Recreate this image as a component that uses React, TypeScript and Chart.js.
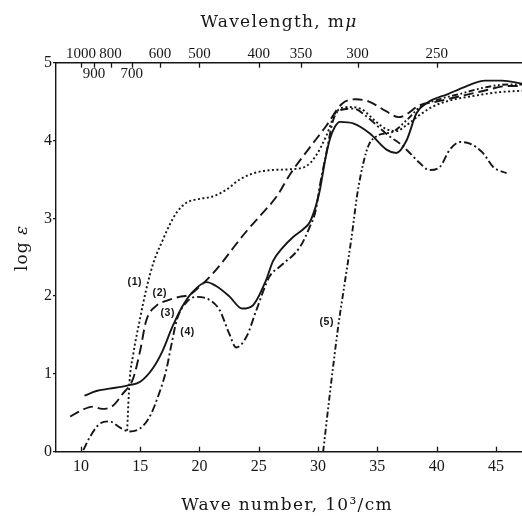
import React, { useEffect, useRef } from "react";
import { Chart, registerables } from "chart.js";

Chart.register(...registerables);

// ---- axis ticks ----
const wavenumberTicks = [10, 15, 20, 25, 30, 35, 40, 45];
const logEpsTicks = [0, 1, 2, 3, 4, 5];
const wavelengthTicks = [1000, 900, 800, 700, 600, 500, 400, 350, 300, 250];
const wavelengthInside = [900, 700];

// ---- curve (1): dotted ----
const curve1Wn = [13.9, 14.1, 14.4, 15.0, 15.5, 16.1, 16.9, 17.5, 18.1, 18.9, 20.0, 21.1, 22.3, 23.4, 24.8, 26.1, 27.6, 29.0, 29.8, 30.7, 31.5, 32.6, 33.7, 34.9, 35.7, 36.6, 37.4, 38.5, 39.6, 41.0, 43.0, 45.2, 47.2];
const curve1LogE = [0.27, 0.9, 1.24, 1.72, 2.08, 2.42, 2.72, 2.92, 3.08, 3.2, 3.25, 3.28, 3.37, 3.5, 3.59, 3.62, 3.63, 3.67, 3.8, 4.06, 4.36, 4.43, 4.4, 4.24, 4.15, 4.12, 4.19, 4.32, 4.43, 4.51, 4.57, 4.62, 4.64];

// ---- curve (2): long dashes ----
const curve2Wn = [9.1, 9.9, 11.0, 11.8, 12.7, 13.5, 14.4, 15.0, 15.5, 16.4, 17.2, 18.3, 19.2, 20.0, 21.0, 22.0, 23.0, 24.0, 25.1, 26.5, 27.7, 29.2, 30.7, 32.0, 33.2, 34.3, 35.7, 36.8, 37.6, 38.5, 40.0, 42.0, 44.0, 46.0, 47.2];
const curve2LogE = [0.45, 0.52, 0.58, 0.55, 0.59, 0.74, 0.94, 1.3, 1.68, 1.88, 1.94, 1.99, 2.02, 2.12, 2.27, 2.45, 2.65, 2.84, 3.03, 3.28, 3.58, 3.89, 4.19, 4.47, 4.53, 4.5, 4.38, 4.3, 4.35, 4.45, 4.5, 4.57, 4.64, 4.7, 4.7];

// ---- curve (3): solid ----
const curve3Wn = [10.3, 11.3, 12.4, 13.9, 15.0, 16.1, 16.9, 17.7, 18.6, 19.4, 20.6, 21.4, 22.5, 23.6, 24.5, 25.6, 26.2, 27.0, 27.9, 28.75, 29.3, 29.8, 30.15, 30.6, 31.0, 31.4, 31.84, 32.96, 34.37, 35.8, 36.6, 37.46, 38.3, 39.15, 41.0, 42.4, 44.1, 45.5, 47.2];
const curve3LogE = [0.72, 0.78, 0.81, 0.85, 0.9, 1.08, 1.3, 1.6, 1.88, 2.05, 2.18, 2.13, 2.0, 1.84, 1.88, 2.2, 2.45, 2.62, 2.76, 2.86, 2.95, 3.15, 3.36, 3.75, 4.02, 4.17, 4.24, 4.22, 4.09, 3.88, 3.84, 4.0, 4.35, 4.48, 4.6, 4.69, 4.77, 4.77, 4.73];

// ---- curve (4): dash-dot ----
const curve4Wn = [10.2, 10.8, 11.6, 12.4, 13.3, 14.1, 15.0, 15.8, 16.6, 17.2, 17.6, 18.1, 18.9, 19.7, 20.6, 21.7, 22.5, 23.1, 23.97, 24.8, 25.9, 26.78, 28.47, 29.3, 29.8, 30.15, 30.7, 31.27, 31.84, 32.96, 34.09, 35.2, 36.05, 36.9, 37.74, 38.58, 39.4, 40.27, 41.1, 41.96, 42.8, 43.9, 44.77, 45.9];
const curve4LogE = [0.02, 0.2, 0.36, 0.39, 0.31, 0.26, 0.3, 0.45, 0.75, 1.05, 1.35, 1.7, 1.92, 1.99, 1.97, 1.82, 1.52, 1.34, 1.48, 1.82, 2.25, 2.38, 2.63, 2.89, 3.1, 3.42, 3.84, 4.26, 4.39, 4.41, 4.31, 4.16, 4.05, 3.96, 3.84, 3.71, 3.62, 3.66, 3.88, 3.98, 3.96, 3.84, 3.66, 3.58];

// ---- curve (5): dash-dot-dot ----
const curve5Wn = [30.43, 31.0, 31.7, 32.05, 32.54, 32.83, 33.3, 33.8, 34.3, 35.0, 35.6, 36.3, 37.46, 38.6, 40.0, 42.0, 44.0, 46.0, 47.2];
const curve5LogE = [0.0, 0.75, 1.61, 1.97, 2.46, 2.76, 3.3, 3.7, 3.95, 4.06, 4.09, 4.11, 4.26, 4.43, 4.52, 4.6, 4.68, 4.72, 4.72];

// ---- curve labels ----
const curveLabels = ["(1)", "(2)", "(3)", "(4)", "(5)"];
const curveLabelWn = [14.55, 16.66, 17.33, 19.0, 30.74];
const curveLabelLogE = [2.18, 2.04, 1.78, 1.54, 1.67];

const INK = "#161616";

const toPoints = (xs: number[], ys: number[]) => xs.map((x, i) => ({ x, y: ys[i] }));

type Part = { text: string; font: string };

function drawRich(ctx: CanvasRenderingContext2D, parts: Part[], x: number, y: number, spacing: string) {
  ctx.letterSpacing = spacing;
  let total = 0;
  const widths = parts.map((p) => {
    ctx.font = p.font;
    const w = ctx.measureText(p.text).width;
    total += w;
    return w;
  });
  let cx = x - total / 2;
  ctx.textAlign = "left";
  parts.forEach((p, i) => {
    ctx.font = p.font;
    ctx.fillText(p.text, cx, y);
    cx += widths[i];
  });
  ctx.letterSpacing = "0px";
}

const annotatePlugin = {
  id: "annotate",
  afterDraw(chart: any) {
    const ctx: CanvasRenderingContext2D = chart.ctx;
    const xs = chart.scales.x;
    const xt = chart.scales.xTop;
    const ys = chart.scales.y;
    const { top, bottom } = chart.chartArea;
    ctx.save();
    ctx.strokeStyle = INK;
    ctx.fillStyle = INK;
    ctx.lineWidth = 1.3;
    // inward ticks bottom
    xs.ticks.forEach((t: any) => {
      const px = Math.round(xs.getPixelForValue(t.value)) + 0.5;
      ctx.beginPath();
      ctx.moveTo(px, bottom);
      ctx.lineTo(px, bottom - 5);
      ctx.stroke();
    });
    // inward ticks top
    xt.ticks.forEach((t: any) => {
      const px = Math.round(xt.getPixelForValue(t.value)) + 0.5;
      ctx.beginPath();
      ctx.moveTo(px, top);
      ctx.lineTo(px, top + 5);
      ctx.stroke();
    });
    // wavelength labels placed under the top line
    ctx.font = '15px "Liberation Serif"';
    ctx.textAlign = "center";
    ctx.textBaseline = "top";
    wavelengthInside.forEach((l) => {
      ctx.fillText(String(l), xt.getPixelForValue(10000 / l), top + 4);
    });
    // curve labels
    ctx.font = 'bold 10.5px "Liberation Sans"';
    ctx.textBaseline = "middle";
    ctx.letterSpacing = "0.6px";
    curveLabels.forEach((lab, i) => {
      ctx.fillText(lab, xs.getPixelForValue(curveLabelWn[i]), ys.getPixelForValue(curveLabelLogE[i]));
    });
    ctx.letterSpacing = "0px";
    // titles
    ctx.textBaseline = "alphabetic";
    const serif = '17px "DejaVu Serif"';
    const serifIt = 'italic 17px "DejaVu Serif"';
    drawRich(ctx, [{ text: "Wavelength, m", font: serif }, { text: "μ", font: serifIt }], 279, 27, "1.3px");
    drawRich(ctx, [{ text: "Wave number, 10³/cm", font: serif }], 287, 510, "1.3px");
    ctx.save();
    ctx.translate(27, 248);
    ctx.rotate(-Math.PI / 2);
    drawRich(ctx, [{ text: "log ", font: serif }, { text: "ε", font: serifIt }], 0, 0, "1px");
    ctx.restore();
    ctx.restore();
  },
};

export default function App() {
  const canvasRef = useRef<HTMLCanvasElement | null>(null);

  useEffect(() => {
    if (!canvasRef.current) return;
    const mk = (xs: number[], ys: number[], dash: number[]) => ({
      data: toPoints(xs, ys),
      borderColor: INK,
      borderWidth: 1.9,
      borderDash: dash,
      pointRadius: 0,
      fill: false,
      cubicInterpolationMode: "monotone" as const,
    });
    const chart = new Chart(canvasRef.current, {
      type: "line",
      data: {
        datasets: [
          mk(curve1Wn, curve1LogE, [2, 2.5]),
          mk(curve2Wn, curve2LogE, [10, 5]),
          mk(curve3Wn, curve3LogE, []),
          mk(curve4Wn, curve4LogE, [8, 3, 2, 3]),
          mk(curve5Wn, curve5LogE, [6, 2.5, 1.8, 2.5, 1.8, 2.5]),
        ],
      },
      options: {
        animation: false,
        responsive: false,
        layout: { padding: 0 },
        plugins: { legend: { display: false }, tooltip: { enabled: false } },
        scales: {
          x: {
            type: "linear",
            position: "bottom",
            min: 7.9,
            max: 47.2,
            afterBuildTicks: (s: any) => {
              s.ticks = wavenumberTicks.map((v) => ({ value: v }));
            },
            afterFit: (s: any) => {
              s.height = 64.3;
            },
            grid: { display: false, drawTicks: false },
            border: { display: true, color: INK, width: 1.4 },
            ticks: {
              color: INK,
              font: { family: "Liberation Serif", size: 16 },
              padding: 5,
              maxRotation: 0,
              minRotation: 0,
              autoSkip: false,
            },
          },
          xTop: {
            type: "linear",
            position: "top",
            min: 7.9,
            max: 47.2,
            afterBuildTicks: (s: any) => {
              s.ticks = wavelengthTicks.map((l) => ({ value: 10000 / l }));
            },
            afterFit: (s: any) => {
              s.height = 62.7;
            },
            grid: { display: false, drawTicks: false },
            border: { display: true, color: INK, width: 1.4 },
            ticks: {
              color: INK,
              font: { family: "Liberation Serif", size: 15 },
              padding: 0,
              maxRotation: 0,
              minRotation: 0,
              autoSkip: false,
              callback: (_v: any, i: number) => {
                const l = wavelengthTicks[i];
                return wavelengthInside.includes(l) ? "" : String(l);
              },
            },
          },
          y: {
            type: "linear",
            min: 0,
            max: 5,
            afterBuildTicks: (s: any) => {
              s.ticks = logEpsTicks.map((v) => ({ value: v }));
            },
            afterFit: (s: any) => {
              s.width = 56;
            },
            grid: { drawOnChartArea: false, drawTicks: true, tickLength: 3, color: INK, lineWidth: 1.3 },
            border: { display: true, color: INK, width: 1.4 },
            ticks: {
              color: INK,
              font: { family: "Liberation Serif", size: 16 },
              padding: 1,
            },
          },
        },
      },
      plugins: [annotatePlugin],
    } as any);
    return () => chart.destroy();
  }, []);

  return (
    <div style={{ position: "fixed", left: 0, top: 0, width: 522, height: 516, background: "#fff" }}>
      <canvas ref={canvasRef} width={522} height={516} style={{ display: "block" }} />
    </div>
  );
}
